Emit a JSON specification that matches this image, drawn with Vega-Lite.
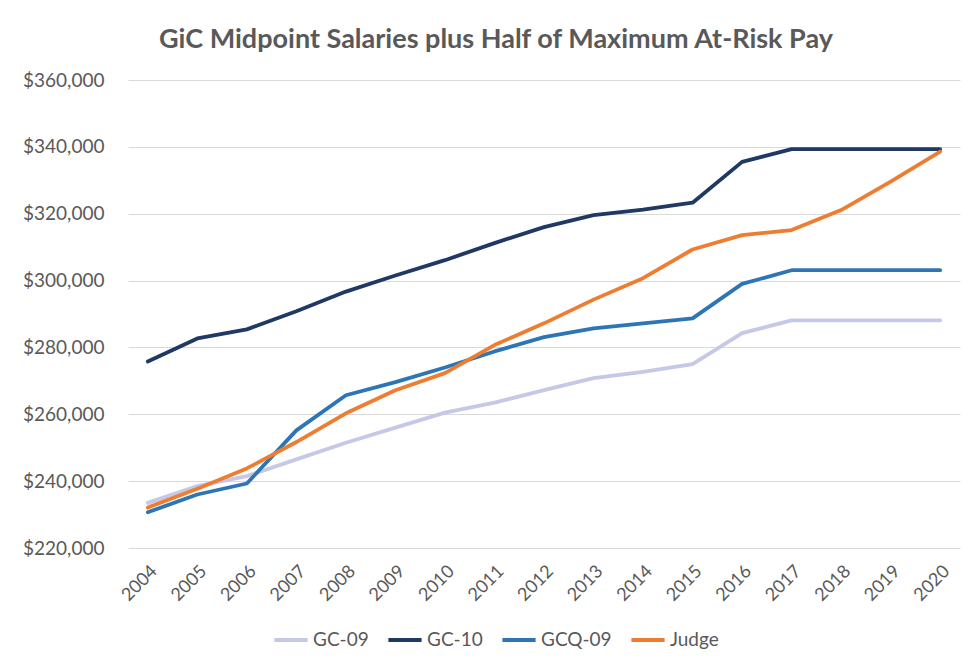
{
  "$schema": "https://vega.github.io/schema/vega-lite/v6.json",
  "width": 832,
  "height": 468,
  "autosize": "none",
  "padding": {"left": 128, "top": 80, "right": 12, "bottom": 124},
  "background": "white",
  "title": {
    "text": "GiC Midpoint Salaries plus Half of Maximum At-Risk Pay",
    "font": "Lato",
    "fontSize": 27,
    "fontWeight": "bold",
    "color": "#595959",
    "anchor": "middle",
    "frame": "group",
    "dx": -48,
    "offset": 17
  },
  "data": {
    "values": [
      {"year": "2004", "series": "GC-09", "value": 233500},
      {"year": "2005", "series": "GC-09", "value": 238500},
      {"year": "2006", "series": "GC-09", "value": 241500},
      {"year": "2007", "series": "GC-09", "value": 246500},
      {"year": "2008", "series": "GC-09", "value": 251500},
      {"year": "2009", "series": "GC-09", "value": 256000},
      {"year": "2010", "series": "GC-09", "value": 260500},
      {"year": "2011", "series": "GC-09", "value": 263500},
      {"year": "2012", "series": "GC-09", "value": 267200},
      {"year": "2013", "series": "GC-09", "value": 270800},
      {"year": "2014", "series": "GC-09", "value": 272700},
      {"year": "2015", "series": "GC-09", "value": 275000},
      {"year": "2016", "series": "GC-09", "value": 284300},
      {"year": "2017", "series": "GC-09", "value": 288100},
      {"year": "2018", "series": "GC-09", "value": 288100},
      {"year": "2019", "series": "GC-09", "value": 288100},
      {"year": "2020", "series": "GC-09", "value": 288100},
      {"year": "2004", "series": "GC-10", "value": 275800},
      {"year": "2005", "series": "GC-10", "value": 282700},
      {"year": "2006", "series": "GC-10", "value": 285400},
      {"year": "2007", "series": "GC-10", "value": 290800},
      {"year": "2008", "series": "GC-10", "value": 296700},
      {"year": "2009", "series": "GC-10", "value": 301500},
      {"year": "2010", "series": "GC-10", "value": 306100},
      {"year": "2011", "series": "GC-10", "value": 311200},
      {"year": "2012", "series": "GC-10", "value": 316000},
      {"year": "2013", "series": "GC-10", "value": 319600},
      {"year": "2014", "series": "GC-10", "value": 321200},
      {"year": "2015", "series": "GC-10", "value": 323300},
      {"year": "2016", "series": "GC-10", "value": 335500},
      {"year": "2017", "series": "GC-10", "value": 339300},
      {"year": "2018", "series": "GC-10", "value": 339300},
      {"year": "2019", "series": "GC-10", "value": 339300},
      {"year": "2020", "series": "GC-10", "value": 339300},
      {"year": "2004", "series": "GCQ-09", "value": 230700},
      {"year": "2005", "series": "GCQ-09", "value": 236000},
      {"year": "2006", "series": "GCQ-09", "value": 239300},
      {"year": "2007", "series": "GCQ-09", "value": 255200},
      {"year": "2008", "series": "GCQ-09", "value": 265700},
      {"year": "2009", "series": "GCQ-09", "value": 269600},
      {"year": "2010", "series": "GCQ-09", "value": 274000},
      {"year": "2011", "series": "GCQ-09", "value": 278800},
      {"year": "2012", "series": "GCQ-09", "value": 283100},
      {"year": "2013", "series": "GCQ-09", "value": 285700},
      {"year": "2014", "series": "GCQ-09", "value": 287200},
      {"year": "2015", "series": "GCQ-09", "value": 288700},
      {"year": "2016", "series": "GCQ-09", "value": 299000},
      {"year": "2017", "series": "GCQ-09", "value": 303100},
      {"year": "2018", "series": "GCQ-09", "value": 303100},
      {"year": "2019", "series": "GCQ-09", "value": 303100},
      {"year": "2020", "series": "GCQ-09", "value": 303100},
      {"year": "2004", "series": "Judge", "value": 232100},
      {"year": "2005", "series": "Judge", "value": 237700},
      {"year": "2006", "series": "Judge", "value": 243800},
      {"year": "2007", "series": "Judge", "value": 251700},
      {"year": "2008", "series": "Judge", "value": 260300},
      {"year": "2009", "series": "Judge", "value": 267200},
      {"year": "2010", "series": "Judge", "value": 272300},
      {"year": "2011", "series": "Judge", "value": 280700},
      {"year": "2012", "series": "Judge", "value": 287200},
      {"year": "2013", "series": "Judge", "value": 294300},
      {"year": "2014", "series": "Judge", "value": 300700},
      {"year": "2015", "series": "Judge", "value": 309300},
      {"year": "2016", "series": "Judge", "value": 313600},
      {"year": "2017", "series": "Judge", "value": 315100},
      {"year": "2018", "series": "Judge", "value": 321100},
      {"year": "2019", "series": "Judge", "value": 329600},
      {"year": "2020", "series": "Judge", "value": 338600}
    ]
  },
  "mark": {"type": "line", "strokeWidth": 3.8, "strokeJoin": "round", "strokeCap": "round"},
  "encoding": {
    "x": {
      "field": "year",
      "type": "ordinal",
      "scale": {"type": "point", "padding": 0.4},
      "axis": {
        "title": null,
        "labelAngle": -45,
        "labelFont": "Lato",
        "labelFontSize": 18,
        "labelColor": "#595959",
        "domain": false,
        "ticks": false,
        "grid": false,
        "labelPadding": 14
      }
    },
    "y": {
      "field": "value",
      "type": "quantitative",
      "scale": {"domain": [220000, 360000], "nice": false, "zero": false},
      "axis": {
        "title": null,
        "format": "$,.0f",
        "values": [220000, 240000, 260000, 280000, 300000, 320000, 340000, 360000],
        "labelFont": "Lato",
        "labelFontSize": 19,
        "labelColor": "#595959",
        "domain": false,
        "ticks": false,
        "labelPadding": 24,
        "gridColor": "#d9d9d9",
        "gridWidth": 1.2
      }
    },
    "color": {
      "field": "series",
      "type": "nominal",
      "scale": {
        "domain": ["GC-09", "GC-10", "GCQ-09", "Judge"],
        "range": ["#c5c8e6", "#203864", "#2e75b6", "#ed7d31"]
      },
      "legend": {
        "title": null,
        "orient": "none",
        "direction": "horizontal",
        "legendX": 144,
        "legendY": 541,
        "symbolType": "stroke",
        "symbolSize": 1100,
        "symbolStrokeWidth": 4,
        "labelFont": "Lato",
        "labelFontSize": 19,
        "labelColor": "#595959",
        "columnPadding": 11,
        "labelOffset": 3
      }
    }
  },
  "config": {
    "view": {"stroke": null}
  }
}
